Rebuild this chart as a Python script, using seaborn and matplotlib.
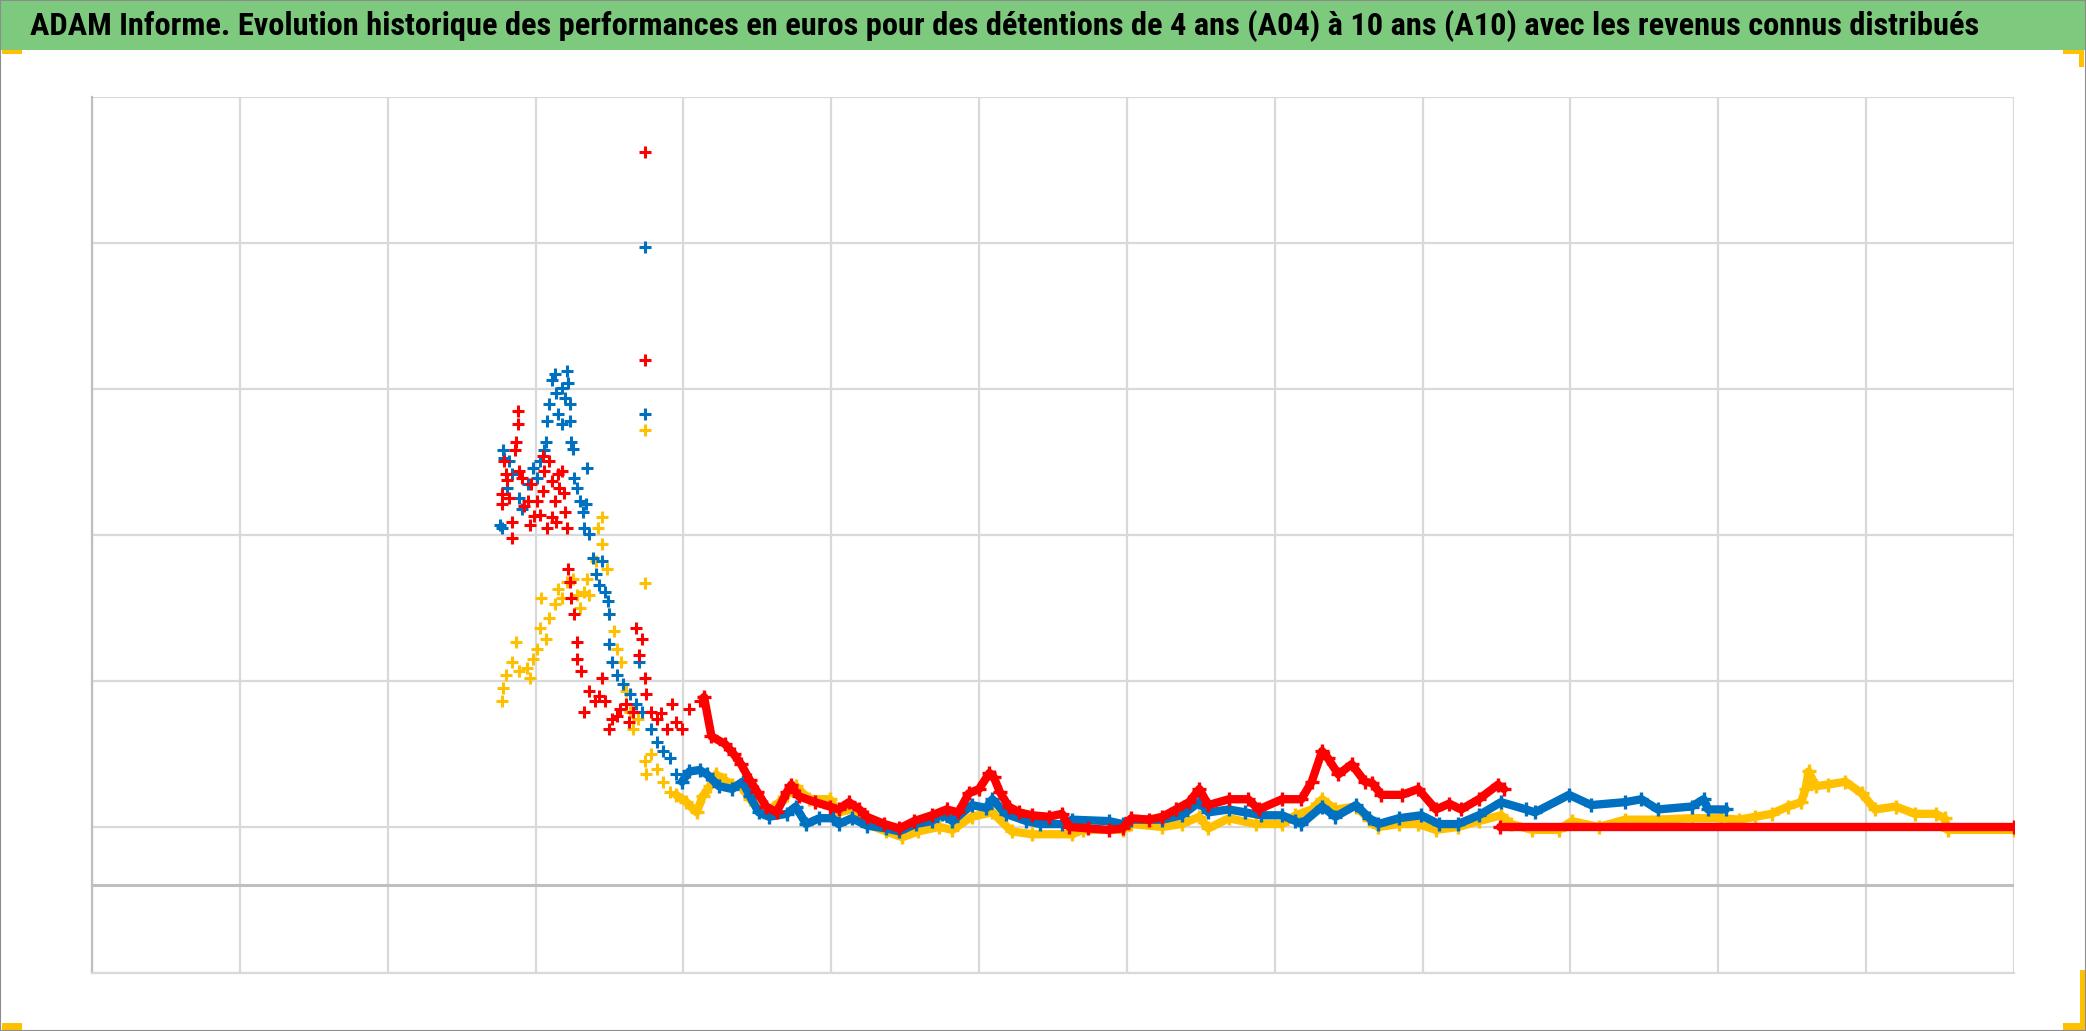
import seaborn as sns
import matplotlib.pyplot as plt
import matplotlib.patches as mpatches
from matplotlib import font_manager
import pandas as pd

# x = years since start of the axis, y = performance in k EUR
titre = ("ADAM Informe. Evolution historique des performances en euros pour des "
         "détentions de 4 ans (A04) à 10 ans (A10) avec les revenus connus distribués")

# --- red series (A04) ---
rouge_nuage_x = [2.77, 2.77, 2.79, 2.80, 2.82, 2.84, 2.84, 2.86, 2.87, 2.88, 2.88, 2.89, 2.91,
                 2.95, 2.96, 2.97, 3.01, 3.03, 3.05, 3.08, 3.09, 3.11, 3.13, 3.15, 3.16, 3.18,
                 3.20, 3.21, 3.22, 3.23, 3.24, 3.26, 3.28, 3.28, 3.31, 3.33, 3.36, 3.40, 3.45,
                 3.47, 3.50, 3.52, 3.57, 3.61, 3.66, 3.68, 3.72, 3.70, 3.74, 3.75, 3.78, 3.82,
                 3.89, 3.92, 3.95, 3.99, 4.04, 4.11, 3.74, 3.74,
                 2.92, 2.99, 3.06, 3.11, 3.05, 2.81, 3.14, 3.19, 3.43, 3.55, 3.63, 3.85]
rouge_nuage_y = [26.8, 26.1, 29.1, 28.2, 26.5, 24.9, 23.8, 29.8, 30.4, 31.6, 32.5, 28.4, 27.9,
                 26.3, 24.7, 27.5, 26.3, 25.4, 27.0, 24.5, 29.1, 27.7, 26.3, 28.2, 27.2, 28.4,
                 25.6, 24.5, 21.7, 20.8, 19.7, 18.6, 16.7, 15.5, 14.7, 11.9, 13.3, 12.6, 14.2,
                 12.6, 10.7, 11.4, 12.1, 12.4, 11.9, 17.6, 16.9, 15.8, 14.2, 13.1, 11.9, 11.4,
                 10.7, 12.4, 11.2, 10.7, 12.1, 12.6, 50.2, 36.0,
                 26.0, 25.3, 28.4, 25.2, 29.4, 27.8, 24.9, 26.9, 13.0, 11.6, 11.2, 11.8]
rouge_x = [4.14, 4.19, 4.28, 4.34, 4.39, 4.45, 4.50, 4.56, 4.63, 4.70, 4.73, 4.78, 4.89, 4.99,
           5.05, 5.12, 5.19, 5.24, 5.36, 5.46, 5.56, 5.68, 5.78, 5.86, 5.93, 6.00, 6.07, 6.10,
           6.14, 6.20, 6.27, 6.36, 6.47, 6.56, 6.61, 6.74, 6.88, 6.97, 7.03, 7.15, 7.24, 7.33,
           7.42, 7.49, 7.55, 7.69, 7.82, 7.89, 8.05, 8.18, 8.25, 8.32, 8.36, 8.43, 8.52, 8.61,
           8.66, 8.72, 8.86, 8.97, 9.09, 9.18, 9.26, 9.38, 9.51, 9.55]
rouge_y = [12.9, 10.2, 9.7, 9.0, 8.3, 7.2, 6.4, 5.4, 5.0, 6.4, 6.9, 6.1, 5.7, 5.4,
           5.2, 5.7, 5.2, 4.7, 4.2, 3.9, 4.4, 4.8, 5.2, 5.0, 6.3, 6.6, 7.7, 7.4,
           6.4, 5.4, 5.0, 4.8, 4.7, 4.9, 4.0, 3.9, 3.8, 3.9, 4.6, 4.5, 4.7, 5.2,
           5.7, 6.6, 5.5, 5.9, 5.9, 5.2, 5.9, 5.9, 7.1, 9.2, 8.7, 7.6, 8.3, 7.1,
           7.0, 6.2, 6.2, 6.6, 5.2, 5.6, 5.2, 5.9, 6.9, 6.6]
rouge_plat_x = [9.52, 13.0]
rouge_plat_y = [4.0, 4.0]

# --- blue series ---
bleu_nuage_x = [2.76, 2.77, 2.78, 2.79, 2.81, 2.82, 2.84, 2.89, 2.91, 2.95, 2.98, 3.01, 3.03,
                3.06, 3.07, 3.08, 3.09, 3.11, 3.13, 3.14, 3.15, 3.18, 3.18, 3.20, 3.21, 3.22,
                3.23, 3.23, 3.24, 3.25, 3.26, 3.28, 3.30, 3.32, 3.34, 3.35, 3.33, 3.36, 3.39,
                3.41, 3.43, 3.45, 3.47, 3.49, 3.50, 3.50, 3.52, 3.55, 3.59, 3.64, 3.68, 3.72,
                3.70, 3.78, 3.82, 3.86, 3.91, 3.95, 3.74, 3.74]
bleu_nuage_y = [24.7, 24.5, 29.8, 29.3, 27.2, 29.1, 28.2, 26.5, 25.8, 27.5, 28.6, 27.9, 29.1,
                29.8, 30.4, 31.8, 33.0, 34.6, 35.0, 33.7, 32.3, 34.1, 31.6, 33.4, 35.2, 34.4,
                33.0, 31.8, 30.4, 29.9, 27.9, 27.2, 26.3, 25.6, 26.1, 28.6, 24.5, 24.1, 22.4,
                21.3, 20.6, 22.2, 20.1, 19.5, 18.6, 16.5, 15.3, 14.4, 13.8, 13.1, 12.4, 11.9,
                15.3, 10.7, 9.8, 9.2, 8.7, 7.6, 43.7, 32.3]
bleu_x = [3.99, 4.04, 4.11, 4.16, 4.24, 4.33, 4.40, 4.45, 4.51, 4.58, 4.70, 4.76, 4.83, 4.92,
          5.01, 5.05, 5.14, 5.24, 5.37, 5.46, 5.57, 5.68, 5.75, 5.82, 5.95, 6.05, 6.09, 6.18,
          6.32, 6.41, 6.56, 6.63, 6.88, 6.97, 7.03, 7.24, 7.37, 7.49, 7.55, 7.69, 7.80, 7.91,
          8.05, 8.14, 8.18, 8.32, 8.41, 8.55, 8.64, 8.70, 8.84, 8.99, 9.11, 9.24, 9.38, 9.53,
          9.70, 9.76, 9.99, 10.14, 10.37, 10.48, 10.59, 10.82, 10.90, 10.93, 11.05]
bleu_y = [7.1, 7.8, 7.9, 7.6, 6.8, 6.6, 7.1, 6.1, 5.0, 4.7, 4.9, 5.4, 4.2, 4.6,
          4.6, 4.2, 4.6, 4.1, 3.9, 3.7, 4.2, 4.4, 4.9, 4.4, 5.5, 5.3, 5.9, 4.9,
          4.4, 4.2, 4.2, 4.5, 4.4, 4.2, 4.5, 4.5, 4.8, 5.7, 5.0, 5.2, 5.0, 4.8,
          4.8, 4.4, 4.2, 5.4, 4.7, 5.5, 4.6, 4.2, 4.6, 4.8, 4.2, 4.2, 4.8, 5.7,
          5.2, 5.0, 6.2, 5.5, 5.7, 5.9, 5.2, 5.4, 5.9, 5.2, 5.2]

# --- yellow series ---
jaune_nuage_x = [2.77, 2.78, 2.80, 2.84, 2.87, 2.89, 2.94, 2.96, 2.98, 3.01, 3.03, 3.04, 3.07,
                 3.09, 3.13, 3.15, 3.18, 3.21, 3.25, 3.28, 3.30, 3.33, 3.35, 3.36, 3.41, 3.42,
                 3.45, 3.45, 3.48, 3.50, 3.53, 3.55, 3.58, 3.61, 3.64, 3.66, 3.69, 3.74, 3.75,
                 3.78, 3.82, 3.86, 3.91, 3.74, 3.74]
jaune_nuage_y = [12.6, 13.5, 14.4, 15.3, 16.7, 14.7, 14.9, 14.2, 15.5, 16.2, 17.6, 19.7, 16.9,
                 18.3, 19.3, 20.3, 19.7, 20.8, 21.0, 19.9, 19.0, 20.1, 21.0, 19.9, 22.2, 24.5,
                 25.2, 23.4, 21.7, 18.6, 17.4, 16.2, 15.3, 13.3, 11.9, 10.7, 11.4, 8.5, 7.6,
                 9.0, 8.0, 7.1, 6.4, 31.2, 20.7]
jaune_x = [3.95, 4.02, 4.09, 4.13, 4.18, 4.22, 4.28, 4.33, 4.39, 4.45, 4.56, 4.65, 4.70, 4.76,
           4.85, 4.99, 5.05, 5.14, 5.24, 5.37, 5.48, 5.59, 5.73, 5.82, 5.95, 6.09, 6.22, 6.36,
           6.63, 6.70, 6.97, 7.03, 7.24, 7.37, 7.49, 7.55, 7.69, 7.87, 8.05, 8.14, 8.25, 8.32,
           8.41, 8.55, 8.64, 8.70, 8.84, 8.97, 9.09, 9.24, 9.38, 9.53, 9.60, 9.74, 9.92, 10.01,
           10.19, 10.37, 10.59, 10.82, 11.02, 11.14, 11.25, 11.36, 11.47, 11.56, 11.59, 11.61,
           11.66, 11.74, 11.86, 11.97, 12.06, 12.20, 12.33, 12.47, 12.53, 12.55, 13.0]
jaune_y = [6.2, 5.7, 5.0, 6.1, 6.8, 7.6, 7.2, 6.9, 6.8, 5.9, 5.0, 5.7, 6.2, 6.8,
           5.9, 5.9, 5.0, 5.2, 4.2, 3.7, 3.3, 3.7, 4.0, 3.8, 4.7, 5.0, 3.7, 3.5,
           3.5, 3.8, 3.8, 4.2, 4.0, 4.2, 4.7, 3.9, 4.6, 4.2, 4.2, 4.8, 5.2, 5.9,
           5.2, 5.4, 4.5, 4.0, 4.2, 4.2, 3.8, 4.0, 4.4, 4.8, 4.2, 3.8, 3.8, 4.4,
           4.0, 4.5, 4.5, 4.6, 4.6, 4.5, 4.7, 4.9, 5.4, 5.7, 6.6, 7.8,
           6.8, 6.9, 7.1, 6.3, 5.2, 5.4, 4.9, 4.9, 4.6, 3.8, 3.8]

couleurs = {"A10": "#FFC000", "A07": "#0070C0", "A04": "#FF0000"}
fond_titre = "#7DC97D"

nuages = pd.concat([
    pd.DataFrame({"x": jaune_nuage_x, "y": jaune_nuage_y, "serie": "A10"}),
    pd.DataFrame({"x": bleu_nuage_x, "y": bleu_nuage_y, "serie": "A07"}),
    pd.DataFrame({"x": rouge_nuage_x, "y": rouge_nuage_y, "serie": "A04"}),
])
bandes = [
    ("A10", jaune_x, jaune_y),
    ("A07", bleu_x, bleu_y),
    ("A04", rouge_x, rouge_y),
    ("A04", rouge_plat_x, rouge_plat_y),
]

sns.set_theme(style="white")
fig = plt.figure(figsize=(20.86, 10.31), dpi=100)
ax = fig.add_axes([0.0441, 0.0563, 0.9214, 0.8496])

for serie in ["A10", "A07", "A04"]:
    c = couleurs[serie]
    sub = nuages[nuages["serie"] == serie]
    sns.scatterplot(data=sub, x="x", y="y", marker="+", s=85, linewidth=2.2,
                    color=c, ax=ax, legend=False, zorder=3)
    for nom, xs, ys in bandes:
        if nom != serie:
            continue
        sns.lineplot(x=xs, y=ys, color=c, linewidth=6, marker="+",
                     markersize=10, markeredgewidth=2.4, markeredgecolor=c,
                     markerfacecolor=c, sort=False, estimator=None,
                     ax=ax, legend=False, zorder=3)

ax.set_xlim(0, 13)
ax.set_ylim(-6, 54)
ax.set_xticks(range(0, 14))
ax.set_yticks(range(-6, 55, 10))
ax.grid(True, color="#D9D9D9", linewidth=1.6)
ax.axhline(0, color="#BFBFBF", linewidth=2.2, zorder=2)
ax.tick_params(left=False, bottom=False, labelleft=False, labelbottom=False)
ax.set_xlabel("")
ax.set_ylabel("")
for side in ["top", "right"]:
    ax.spines[side].set_visible(False)
ax.spines["left"].set_color("#BFBFBF")
ax.spines["left"].set_linewidth(1.6)
ax.spines["bottom"].set_color("#D9D9D9")
ax.spines["bottom"].set_linewidth(1.6)

# title band and corner marks
W, H = 2086, 1031
def rect_px(x0, y0, x1, y1, color, z=1):
    fig.patches.append(mpatches.Rectangle((x0 / W, 1 - y1 / H), (x1 - x0) / W, (y1 - y0) / H,
                                          transform=fig.transFigure, facecolor=color,
                                          edgecolor="none", zorder=z))

rect_px(0, 0, W, 50, fond_titre)
for x0, y0, x1, y1 in [(2, 50, 22, 54), (2063, 50, 2084, 54), (2079, 50, 2084, 67),
                       (2, 1023, 22, 1030), (2063, 1023, 2085, 1030), (2080, 970, 2085, 1030)]:
    rect_px(x0, y0, x1, y1, "#FFC000", z=2)
fig.patches.append(mpatches.Rectangle((0, 0), 1, 1, transform=fig.transFigure,
                                      facecolor="none", edgecolor="#8C8C8C", linewidth=1.5,
                                      zorder=3))

dispo = {f.name for f in font_manager.fontManager.ttflist}
famille = [f for f in ["Liberation Sans Narrow", "Roboto Condensed", "Roboto", "Open Sans"]
           if f in dispo]
t = fig.text(1005 / W, 1 - 26 / H, titre, ha="center", va="center", fontsize=21,
             fontweight="bold", color="black", family=famille + ["DejaVu Sans"])
fig.canvas.draw()
largeur = t.get_window_extent().width
t.set_fontsize(21 * 1947 / largeur)

fig.savefig("out.png", dpi=100)
